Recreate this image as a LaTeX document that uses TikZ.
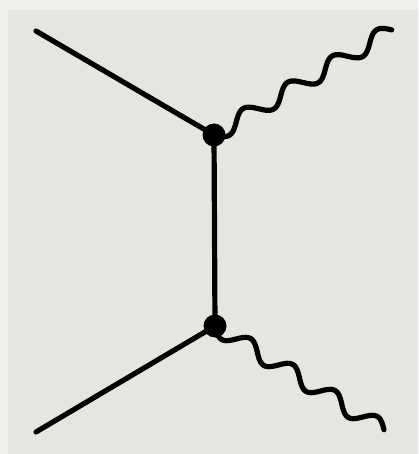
\documentclass[tikz,border=0pt]{standalone}
\definecolor{outerbg}{HTML}{F1EFEA}
\definecolor{panelbg}{HTML}{E4E6E1}
\tikzset{
  fermion/.style={line width=5.2pt, line cap=round, black},
  photon/.style={line width=5.2pt, line cap=round, line join=round, black},
  vertexdot/.style={circle, fill=black, inner sep=0pt, minimum size=23pt}
}
\begin{document}
\begin{tikzpicture}[x=1pt,y=-1pt]
\fill[outerbg] (0,0) rectangle (418,454);
\fill[panelbg] (8,10) rectangle (418,454);
\useasboundingbox (0,0) rectangle (418,454);
\coordinate (a) at (36,31);
\coordinate (b) at (36,432);
\coordinate (c) at (392,30);
\coordinate (d) at (384,430);
\node[vertexdot] (v1) at (214,135) {};
\node[vertexdot] (v2) at (215,326) {};
\draw[fermion] (a) -- (v1.center);
\draw[fermion] (b) -- (v2.center);
\draw[fermion] (v1.center) -- (v2.center);
% top wavy line: from v1 to c
\draw[photon] plot[domain=0:1, samples=200, smooth, variable=\t]
  ({214 + \t*(392-214) + 8*sin(\t*4*360)*0.515}, {135 + \t*(30-135) + 8*sin(\t*4*360)*0.855});
% bottom wavy line: from v2 to d
\draw[photon] plot[domain=0:1, samples=200, smooth, variable=\t]
  ({215 + \t*(384-215) - 8*sin(\t*4*360)*0.51}, {326 + \t*(430-326) + 8*sin(\t*4*360)*0.86});
\end{tikzpicture}
\end{document}
